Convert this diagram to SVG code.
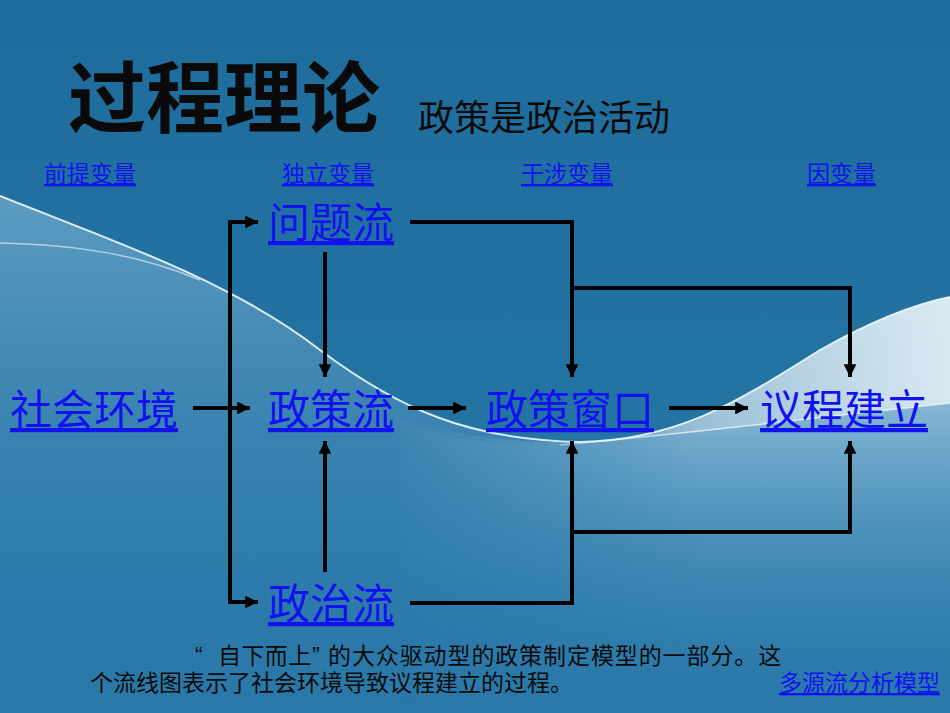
<svg xmlns="http://www.w3.org/2000/svg" width="950" height="713" viewBox="0 0 950 713">
<defs>
<linearGradient id="bg" x1="0" y1="0" x2="0" y2="1">
<stop offset="0" stop-color="#1e6c9b"/>
<stop offset="0.5" stop-color="#2373a2"/>
<stop offset="1" stop-color="#2a79a9"/>
</linearGradient>
<linearGradient id="wave" x1="0" y1="0" x2="0" y2="1">
<stop offset="0" stop-color="#8fbfdc" stop-opacity="0.55"/>
<stop offset="0.3" stop-color="#5f9cc4" stop-opacity="0.55"/>
<stop offset="0.7" stop-color="#3f88b6" stop-opacity="0.35"/>
<stop offset="1" stop-color="#2c7bab" stop-opacity="0"/>
</linearGradient>
<linearGradient id="band" x1="0" y1="0" x2="1" y2="0">
<stop offset="0" stop-color="#ffffff" stop-opacity="0.1"/>
<stop offset="0.5" stop-color="#ffffff" stop-opacity="0.45"/>
<stop offset="1" stop-color="#f4fafd" stop-opacity="0.85"/>
</linearGradient>
<linearGradient id="under" x1="0" y1="0" x2="0" y2="1">
<stop offset="0" stop-color="#a7cde2" stop-opacity="0.7"/>
<stop offset="0.5" stop-color="#6aa6cb" stop-opacity="0.35"/>
<stop offset="1" stop-color="#3b86b4" stop-opacity="0"/>
</linearGradient>
<linearGradient id="fadeX" gradientUnits="userSpaceOnUse" x1="380" y1="0" x2="700" y2="0">
<stop offset="0" stop-color="#fff" stop-opacity="0"/>
<stop offset="1" stop-color="#fff" stop-opacity="1"/>
</linearGradient>
<mask id="mx" maskUnits="userSpaceOnUse" x="0" y="0" width="950" height="713">
<rect x="0" y="0" width="950" height="713" fill="url(#fadeX)"/>
</mask>
<marker id="ah" viewBox="0 0 10 10" refX="10" refY="5" markerWidth="3.6" markerHeight="3.2" orient="auto" markerUnits="strokeWidth">
<path d="M0,0 L10,5 L0,10 Z" fill="#000"/>
</marker>
<style>
.lk{font-family:"Noto Sans CJK SC","Noto Sans",sans-serif;fill:#1212f0;text-decoration:underline;}
.nd{font-size:42px;}
.hd{font-size:23px;}
.ln{fill:none;stroke:#000;stroke-width:4;}
.ar{fill:none;stroke:#000;stroke-width:4;marker-end:url(#ah);}
.tx{font-family:"Noto Sans CJK SC","Noto Sans",sans-serif;fill:#0a0a0a;}
.cap{font-family:"Liberation Sans","Noto Sans CJK SC",sans-serif;fill:#0a0a0a;font-size:23px;}
.sw{fill:none;stroke:#eef7fb;}
</style>
</defs>
<rect width="950" height="713" fill="url(#bg)"/>
<g id="background-wave">
<path d="M0,196 C110,240 230,280 320,350 C400,410 470,440 580,442 C680,440 740,400 820,350 C870,322 910,305 950,297 L950,713 L0,713 Z" fill="url(#wave)"/>
<path d="M400,418 C470,440 520,442 580,442 C680,440 740,400 820,350 C870,322 910,305 950,297 L950,403 C840,415 720,430 560,445 C500,448 450,440 400,418 Z" fill="url(#band)" mask="url(#mx)"/>
<path d="M400,418 C450,440 500,448 560,445 C720,430 840,415 950,403 L950,713 L400,713 Z" fill="url(#under)" mask="url(#mx)"/>
<path class="sw" stroke-width="2" opacity="0.9" d="M0,196 C110,240 230,280 320,350 C400,410 470,440 580,442 C680,440 740,400 820,350 C870,322 910,305 950,297"/>
<path class="sw" stroke-width="1.5" opacity="0.6" d="M0,243 C80,245 140,255 200,280"/>
<path class="sw" stroke-width="1.5" opacity="0.8" d="M560,445 C720,430 840,415 950,403" mask="url(#mx)"/>
</g>
<g id="title">
<text x="68" y="127" class="tx" font-size="78" font-weight="bold">过程理论</text>
<text x="418" y="131" class="tx" font-size="36">政策是政治活动</text>
</g>
<g id="headers">
<text x="44" y="182" class="lk hd">前提变量</text>
<text x="282" y="182" class="lk hd">独立变量</text>
<text x="521" y="182" class="lk hd">干涉变量</text>
<text x="807" y="182" class="lk hd">因变量</text>
</g>
<g id="node-wenti"><text x="268" y="238" class="lk nd">问题流</text></g>
<g id="node-zhengce"><text x="268" y="425" class="lk nd">政策流</text></g>
<g id="node-zhengzhi"><text x="268" y="619" class="lk nd">政治流</text></g>
<g id="node-shehui"><text x="10" y="425" class="lk nd">社会环境</text></g>
<g id="node-chuangkou"><text x="486" y="425" class="lk nd">政策窗口</text></g>
<g id="node-yicheng"><text x="760" y="425" class="lk nd">议程建立</text></g>
<g id="connectors">
<path class="ln" d="M230,220 L230,604"/>
<path class="ar" d="M228,222 L258,222"/>
<path class="ar" d="M228,602 L258,602"/>
<path class="ar" d="M193,408 L250,408"/>
<path class="ar" d="M325,252 L325,377"/>
<path class="ar" d="M325,572 L325,441"/>
<path class="ar" d="M408,408 L466,408"/>
<path class="ar" d="M669,408 L748,408"/>
<path class="ar" d="M410,222 L572,222 L572,377"/>
<path class="ar" d="M572,288 L850,288 L850,377"/>
<path class="ar" d="M410,603 L572,603 L572,441"/>
<path class="ar" d="M572,532 L850,532 L850,441"/>
</g>
<g id="caption">
<text class="cap"><tspan x="195" y="664">“</tspan><tspan x="218" y="664" letter-spacing="0.4">自下而上</tspan><tspan x="312" y="664">”</tspan><tspan x="328" y="664" letter-spacing="0.9">的大众驱动型的政策制定模型的一部分。这</tspan><tspan x="90" y="691">个流线图表示了社会环境导致议程建立的过程。</tspan></text>
</g>
<g id="link-model"><text x="779" y="691" class="lk hd">多源流分析模型</text></g>
</svg>
